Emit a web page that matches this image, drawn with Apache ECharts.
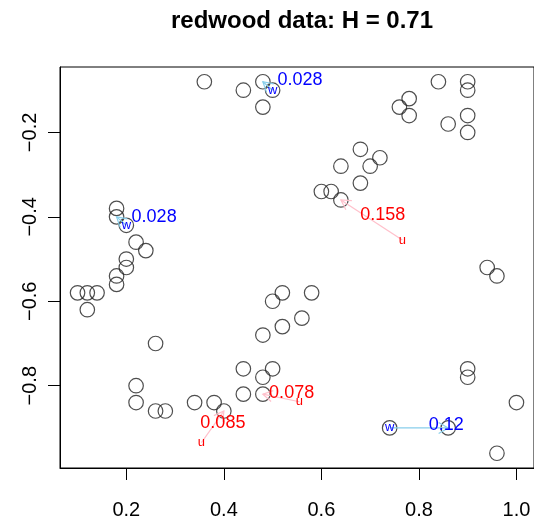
<!DOCTYPE html>
<html>
<head>
<meta charset="utf-8">
<script src="https://cdn.jsdelivr.net/npm/echarts@6/dist/echarts.min.js"></script>
<style>
  html, body { margin: 0; padding: 0; background: #fff; }
  #chart { width: 534px; height: 520px; }
</style>
</head>
<body>
<div id="chart"></div>
<script>
// tree locations
const treeX = [
  0.36, 0.44, 0.48, 0.50, 0.48, 0.18, 0.18, 0.20, 0.22, 0.24,
  0.20, 0.20, 0.18, 0.18, 0.10, 0.12, 0.14, 0.12, 0.26, 0.22,
  0.22, 0.26, 0.28, 0.34, 0.38, 0.40, 0.44, 0.44, 0.48, 0.50,
  0.48, 0.48, 0.50, 0.52, 0.52, 0.58, 0.56, 0.94, 0.96, 0.90,
  0.90, 1.00, 0.74, 0.86, 0.96, 0.84, 0.90, 0.90, 0.78, 0.76,
  0.78, 0.90, 0.86, 0.90, 0.68, 0.72, 0.70, 0.64, 0.68, 0.60,
  0.62, 0.64
]
const treeY = [
  -0.08, -0.10, -0.08, -0.10, -0.14, -0.38, -0.40, -0.42, -0.46, -0.48,
  -0.50, -0.52, -0.54, -0.56, -0.58, -0.58, -0.58, -0.62, -0.70, -0.80,
  -0.84, -0.86, -0.86, -0.84, -0.84, -0.86, -0.76, -0.82, -0.78, -0.76,
  -0.82, -0.68, -0.60, -0.58, -0.66, -0.58, -0.64, -0.52, -0.54, -0.76,
  -0.78, -0.84, -0.90, -0.90, -0.96, -0.08, -0.08, -0.10, -0.12, -0.14,
  -0.16, -0.16, -0.18, -0.20, -0.24, -0.26, -0.28, -0.28, -0.32, -0.34,
  -0.34, -0.36
]

// nearest-neighbour arrows: start (w = tree, u = random point) -> nearest tree
const arrowKind = ['w', 'w', 'u', 'u', 'u', 'w']
const arrowStartX = [0.50, 0.20, 0.766, 0.354, 0.555, 0.74]
const arrowStartY = [-0.10, -0.42, -0.455, -0.935, -0.838, -0.90]
const arrowEndX = [0.48, 0.18, 0.64, 0.40, 0.48, 0.86]
const arrowEndY = [-0.08, -0.40, -0.36, -0.86, -0.82, -0.90]
const distLabels = ['0.028', '0.028', '0.158', '0.085', '0.078', '0.12']
const distLabelX = [0.556, 0.257, 0.726, 0.398, 0.539, 0.856]
const distLabelY = [-0.077, -0.400, -0.395, -0.888, -0.818, -0.893]

const xTicks = [0.2, 0.4, 0.6, 0.8, 1.0]
const yTicks = [-0.8, -0.6, -0.4, -0.2]

const FONT = '"Liberation Sans", Arial, Helvetica, sans-serif'

const chart = echarts.init(document.getElementById('chart'), null, { renderer: 'canvas' })

const renderArrow = (params, api) => {
  const i = params.dataIndex
  const p0 = api.coord([api.value(0), api.value(1)])
  const p1 = api.coord([api.value(2), api.value(3)])
  const pl = api.coord([api.value(4), api.value(5)])
  const isW = arrowKind[i] === 'w'
  const lineColor = isW ? '#87ceeb' : '#ffc0cb'
  const textColor = isW ? '#0000ff' : '#ff0000'
  const ang = Math.atan2(p1[1] - p0[1], p1[0] - p0[0])
  const head = 11
  const h1 = [p1[0] - head * Math.cos(ang - Math.PI / 6), p1[1] - head * Math.sin(ang - Math.PI / 6)]
  const h2 = [p1[0] - head * Math.cos(ang + Math.PI / 6), p1[1] - head * Math.sin(ang + Math.PI / 6)]
  return {
    type : 'group',
    children : [
      {
        type : 'line',
        shape : { x1 : p0[0], y1 : p0[1], x2 : p1[0], y2 : p1[1] },
        style : { stroke : lineColor, lineWidth : 1.2 }
      },
      {
        type : 'polyline',
        shape : { points : [h1, p1, h2] },
        style : { stroke : lineColor, lineWidth : 1.2, fill : null }
      },
      {
        type : 'text',
        x : p0[0],
        y : p0[1],
        style : {
          text : arrowKind[i],
          fill : textColor,
          font : '13px ' + FONT,
          align : 'center',
          verticalAlign : 'middle'
        }
      },
      {
        type : 'text',
        x : pl[0],
        y : pl[1],
        style : {
          text : distLabels[i],
          fill : textColor,
          font : '18px ' + FONT,
          align : 'center',
          verticalAlign : 'middle'
        }
      }
    ]
  }
}

const arrowData = arrowKind.map((k, i) => [
  arrowStartX[i], arrowStartY[i], arrowEndX[i], arrowEndY[i], distLabelX[i], distLabelY[i]
])

chart.setOption({
  animation : false,
  backgroundColor : '#fff',
  title : {
    text : 'redwood data: H = 0.71',
    left : 297,
    top : 4,
    textAlign : 'center',
    textStyle : { fontFamily : FONT, fontSize : 24, fontWeight : 'bold', color : '#000' }
  },
  grid : {
    left : 60,
    right : -5,
    top : 67,
    bottom : 51,
    show : true,
    borderColor : '#000',
    borderWidth : 1,
    backgroundColor : 'transparent'
  },
  xAxis : {
    type : 'value',
    min : 0.064,
    max : 1.036,
    axisLine : { show : true, onZero : false, lineStyle : { color : '#000', width : 1 } },
    axisTick : { show : true, length : 12, customValues : xTicks, lineStyle : { color : '#000' } },
    axisLabel : {
      show : true,
      customValues : xTicks,
      margin : 32,
      color : '#000',
      fontFamily : FONT,
      fontSize : 20,
      formatter : v => v.toFixed(1)
    },
    splitLine : { show : false }
  },
  yAxis : {
    type : 'value',
    min : -0.995,
    max : -0.045,
    axisLine : { show : true, onZero : false, lineStyle : { color : '#000', width : 1 } },
    axisTick : { show : true, length : 12, customValues : yTicks, lineStyle : { color : '#000' } },
    axisLabel : {
      show : true,
      customValues : yTicks,
      rotate : 90,
      margin : 20,
      color : '#000',
      fontFamily : FONT,
      fontSize : 20,
      formatter : v => v.toFixed(1).replace('-', '\u2212')
    },
    splitLine : { show : false }
  },
  series : [
    {
      type : 'scatter',
      data : treeX.map((x, i) => [x, treeY[i]]),
      symbol : 'circle',
      symbolSize : 14.5,
      itemStyle : { color : 'rgba(0,0,0,0)', borderColor : '#222', borderWidth : 1.2 },
      emphasis : { disabled : true },
      z : 2
    },
    {
      type : 'custom',
      data : arrowData,
      renderItem : renderArrow,
      encode : { x : [0, 2], y : [1, 3] },
      clip : false,
      silent : true,
      z : 3
    }
  ]
})

window.addEventListener('resize', () => chart.resize())
</script>
</body>
</html>
